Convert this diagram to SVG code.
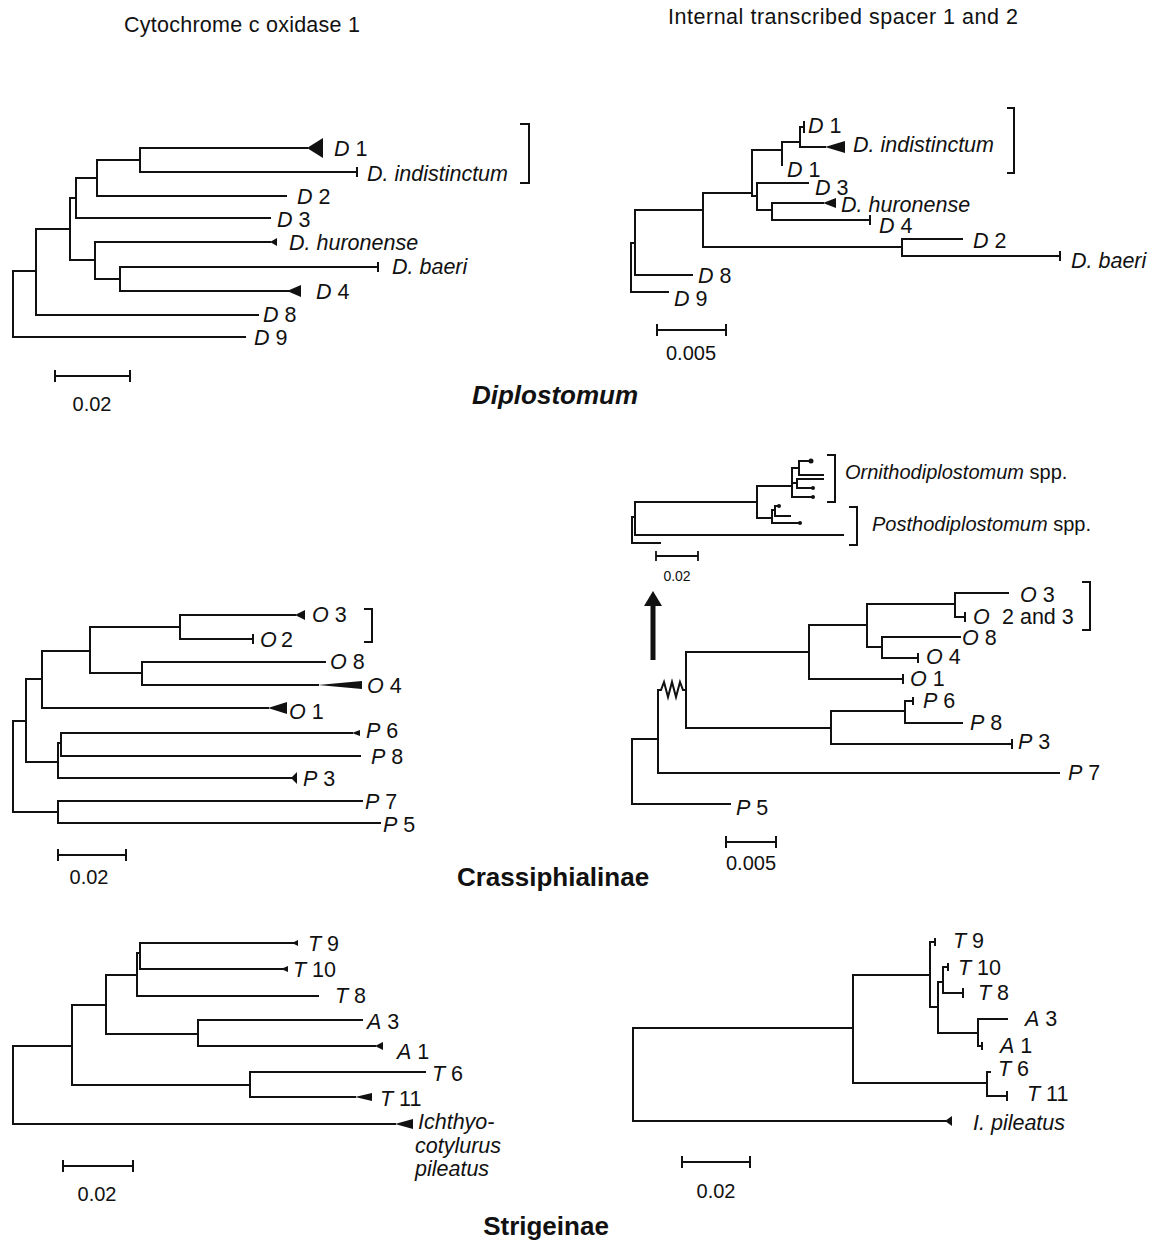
<svg xmlns="http://www.w3.org/2000/svg" width="1161" height="1240" viewBox="0 0 1161 1240">
<style>
text{font-family:"Liberation Sans",Arial,Helvetica,sans-serif;fill:#111}
.lb{font-size:21.5px}
.it{font-style:italic}
.sc{font-size:20px}
.ttl{font-size:21.5px}
.grp{font-size:26px;font-weight:bold}
.br{fill:none;stroke:#111;stroke-width:2;stroke-linecap:square;stroke-linejoin:miter}
.tri{fill:#111;stroke:none}
.dot{fill:#111}
</style>
<rect width="1161" height="1240" fill="#fff"/>

<g id="titles">
<text class="ttl" x="124" y="32" textLength="236" lengthAdjust="spacing">Cytochrome c oxidase 1</text>
<text class="ttl" x="668" y="24" textLength="350" lengthAdjust="spacing">Internal transcribed spacer 1 and 2</text>
<text class="grp it" x="555" y="404" text-anchor="middle">Diplostomum</text>
<text class="grp" x="553" y="886" text-anchor="middle">Crassiphialinae</text>
<text class="grp" x="546" y="1235" text-anchor="middle">Strigeinae</text>
</g>

<!-- Top-left: COI Diplostomum -->
<g id="coi-diplostomum">
<g id="coi-diplo-connectors">
<path class="br" d="M13,271 V337 H245 M13,271 H36 M36,229 V315 H258 M36,229 H70 M70,198 V260 M70,198 H76 M76,178 V218 H270 M76,178 H97 M97,160 V196 H286 M97,160 H140 M140,148 V172 H357 M357,168 V176 M140,148 H307 M70,260 H95 M95,242 V279 M95,242 H270 M95,279 H120 M120,267 V291 M120,267 H378 M378,263 V271 M120,291 H288"/>
<polygon class="tri" points="307,148 323,138 323,158"/>
<polygon class="tri" points="270,242 277,238 277,246"/>
<polygon class="tri" points="287,291 301,285 301,297"/>
<path class="br" d="M521,124 H529 V183 H521"/>
<path class="br" d="M55,376 H130 M55,371 V381 M130,371 V381"/>
</g>
<g id="coi-diplo-labels" class="lb">
<text x="334" y="156"><tspan class="it">D</tspan> 1</text>
<text x="367" y="181" class="it">D. indistinctum</text>
<text x="297" y="204"><tspan class="it">D</tspan> 2</text>
<text x="277" y="227"><tspan class="it">D</tspan> 3</text>
<text x="289" y="250" class="it">D. huronense</text>
<text x="392" y="274" class="it">D. baeri</text>
<text x="316" y="299"><tspan class="it">D</tspan> 4</text>
<text x="263" y="322"><tspan class="it">D</tspan> 8</text>
<text x="254" y="345"><tspan class="it">D</tspan> 9</text>
</g>
<text class="sc" x="92" y="411" text-anchor="middle">0.02</text>
</g>

<!-- Top-right: ITS Diplostomum -->
<g id="its-diplostomum">
<g id="its-diplo-connectors">
<path class="br" d="M631,243 V292 H668 M631,243 H635 M635,210 V275 H692 M635,210 H703 M703,193 V247 M703,247 H902 M902,239 V256 M902,239 H962 M902,256 H1060 M1060,252 V260 M703,193 H752 M752,150 V196 M752,196 H757 M757,183 V210 M757,183 H808 M757,210 H772 M772,203 V220 M772,203 H823 M772,220 H870 M870,216 V224 M752,150 H782 M782,142 V165 M782,142 H800 M800,127 V147 M800,127 H804 M804,122 V132 M800,147 H825"/>
<polygon class="tri" points="823,203 836,198 836,208"/>
<polygon class="tri" points="825,147 845,141 845,153"/>
<path class="br" d="M1008,108 H1014 V173 H1008"/>
<path class="br" d="M657,330 H726 M657,325 V335 M726,325 V335"/>
</g>
<g id="its-diplo-labels" class="lb">
<text x="808" y="133"><tspan class="it">D</tspan> 1</text>
<text x="853" y="152" class="it">D. indistinctum</text>
<text x="787" y="177"><tspan class="it">D</tspan> 1</text>
<text x="815" y="195"><tspan class="it">D</tspan> 3</text>
<text x="841" y="212" class="it">D. huronense</text>
<text x="879" y="233"><tspan class="it">D</tspan> 4</text>
<text x="973" y="248"><tspan class="it">D</tspan> 2</text>
<text x="1071" y="268" class="it">D. baeri</text>
<text x="698" y="283"><tspan class="it">D</tspan> 8</text>
<text x="674" y="306"><tspan class="it">D</tspan> 9</text>
</g>
<text class="sc" x="691" y="360" text-anchor="middle">0.005</text>
</g>

<!-- Middle-left: COI Crassiphialinae -->
<g id="coi-crassiphialinae">
<g id="coi-crass-connectors">
<path class="br" d="M13,721 V812 M13,721 H26 M26,679 V762 M26,679 H42 M42,651 V708 M42,651 H90 M90,627 V673 M90,627 H180 M180,615 V639 M180,615 H295 M180,639 H253 M253,635 V643 M90,673 H142 M142,662 V685 M142,662 H325 M142,685 H318 M42,708 H268 M26,762 H58 M58,743 V778 M58,743 H61 M61,733 V756 M61,733 H352 M61,756 H360 M58,778 H292 M13,812 H58 M58,801 V823 M58,801 H362 M58,823 H380"/>
<polygon class="tri" points="295,615 305,610 305,620"/>
<polygon class="tri" points="318,685 362,681 362,689"/>
<polygon class="tri" points="268,708 287,702 287,714"/>
<polygon class="tri" points="352,733 360,730 360,736"/>
<polygon class="tri" points="291,778 297,772 297,784"/>
<path class="br" d="M365,609 H372 V642 H365"/>
<path class="br" d="M58,855 H126 M58,850 V860 M126,850 V860"/>
</g>
<g id="coi-crass-labels" class="lb">
<text x="312" y="622"><tspan class="it">O</tspan> 3</text>
<text x="260" y="647"><tspan class="it">O</tspan><tspan x="281">2</tspan></text>
<text x="330" y="669"><tspan class="it">O</tspan> 8</text>
<text x="367" y="693"><tspan class="it">O</tspan> 4</text>
<text x="289" y="719"><tspan class="it">O</tspan> 1</text>
<text x="366" y="738"><tspan class="it">P</tspan> 6</text>
<text x="371" y="764"><tspan class="it">P</tspan> 8</text>
<text x="303" y="786"><tspan class="it">P</tspan> 3</text>
<text x="365" y="809"><tspan class="it">P</tspan> 7</text>
<text x="383" y="832"><tspan class="it">P</tspan> 5</text>
</g>
<text class="sc" x="89" y="884" text-anchor="middle">0.02</text>
</g>

<!-- Middle-right inset -->
<g id="its-crass-inset">
<g id="its-inset-connectors">
<path class="br" d="M632,517 V543 H660 M632,517 H635 M635,502 V535 M635,502 H757 M635,535 H843 M757,486 V518 M757,486 H792 M792,468 V497 M792,468 H799 M799,461 V475 M799,461 H810 M799,475 H823 M792,483 H797 M797,479 V488 M797,479 H823 M797,488 H813 M792,497 H813 M757,518 H772 M772,510 V523 M772,510 H775 M775,506 V516 M775,506 H779 M775,516 H790 M772,523 H800"/>
<circle class="dot" cx="811" cy="461" r="2.5"/>
<circle class="dot" cx="813" cy="488" r="2"/>
<circle class="dot" cx="813" cy="497" r="2"/>
<circle class="dot" cx="779" cy="506" r="2"/>
<circle class="dot" cx="800" cy="523" r="2"/>
<path class="br" d="M828,455 H835 V502 H828 M850,507 H857 V545 H850"/>
<path class="br" d="M656,556 H698 M656,552 V560 M698,552 V560" style="stroke-width:1.8"/>
</g>
<g id="its-inset-labels" style="font-size:20px">
<text x="845" y="479"><tspan class="it">Ornithodiplostomum</tspan> spp.</text>
<text x="872" y="531"><tspan class="it">Posthodiplostomum</tspan> spp.</text>
</g>
<text x="677" y="581" text-anchor="middle" style="font-size:14px">0.02</text>
</g>

<g id="arrow">
<path d="M653,660 V604" fill="none" stroke="#111" stroke-width="5"/>
<polygon class="tri" points="653,591 644,606 662,606"/>
</g>

<!-- Middle-right: ITS Crassiphialinae -->
<g id="its-crassiphialinae">
<g id="its-crass-connectors">
<path class="br" d="M632,739 V804 H730 M632,739 H658 M658,690 V773 H1059 M658,690 L661,690 L664,682 L668,697 L672,682 L676,697 L680,682 L683,690 L686,690 M686,652 V728 M686,652 H809 M809,625 V679 M809,625 H867 M867,604 V647 M867,604 H955 M955,593 V617 M955,593 H1008 M955,617 H965 M965,613 V621 M867,647 H882 M882,637 V658 M882,637 H960 M882,658 H918 M918,654 V662 M809,679 H903 M903,675 V683 M686,728 H831 M831,711 V744 M831,744 H1012 M1012,740 V748 M831,711 H905 M905,701 V723 M905,701 H913 M913,698 V704 M905,723 H962"/>
<path class="br" d="M1083,582 H1090 V630 H1083"/>
<path class="br" d="M726,842 H776 M726,837 V847 M776,837 V847"/>
</g>
<g id="its-crass-labels" class="lb">
<text x="1020" y="602"><tspan class="it">O</tspan> 3</text>
<text x="973" y="624"><tspan class="it">O</tspan><tspan x="1002">2 and 3</tspan></text>
<text x="962" y="645"><tspan class="it">O</tspan> 8</text>
<text x="926" y="664"><tspan class="it">O</tspan> 4</text>
<text x="910" y="686"><tspan class="it">O</tspan> 1</text>
<text x="923" y="708"><tspan class="it">P</tspan> 6</text>
<text x="970" y="730"><tspan class="it">P</tspan> 8</text>
<text x="1018" y="749"><tspan class="it">P</tspan> 3</text>
<text x="1068" y="780"><tspan class="it">P</tspan> 7</text>
<text x="736" y="815"><tspan class="it">P</tspan> 5</text>
</g>
<text class="sc" x="751" y="870" text-anchor="middle">0.005</text>
</g>

<!-- Bottom-left: COI Strigeinae -->
<g id="coi-strigeinae">
<g id="coi-strig-connectors">
<path class="br" d="M13,1046 V1124 H395 M13,1046 H72 M72,1005 V1085 M72,1085 H250 M250,1072 V1097 M250,1072 H425 M250,1097 H355 M72,1005 H106 M106,975 V1034 M106,1034 H198 M198,1020 V1046 M198,1020 H362 M198,1046 H375 M106,975 H137 M137,953 V996 M137,953 H140 M140,943 V969 M140,943 H293 M140,969 H282 M137,996 H318"/>
<polygon class="tri" points="395,1124 413,1119 413,1129"/>
<polygon class="tri" points="355,1097 372,1093 372,1101"/>
<polygon class="tri" points="375,1046 383,1042 383,1050"/>
<polygon class="tri" points="292,943 298,940 298,946"/>
<polygon class="tri" points="281,969 288,966 288,972"/>
<path class="br" d="M63,1166 H133 M63,1161 V1171 M133,1161 V1171"/>
</g>
<g id="coi-strig-labels" class="lb">
<text x="308" y="951"><tspan class="it">T</tspan> 9</text>
<text x="293" y="977"><tspan class="it">T</tspan> 10</text>
<text x="335" y="1003"><tspan class="it">T</tspan> 8</text>
<text x="367" y="1029"><tspan class="it">A</tspan> 3</text>
<text x="397" y="1059"><tspan class="it">A</tspan> 1</text>
<text x="432" y="1081"><tspan class="it">T</tspan> 6</text>
<text x="380" y="1106"><tspan class="it">T</tspan> 11</text>
<text x="418" y="1129" class="it">Ichthyo-</text>
<text x="415" y="1153" class="it">cotylurus</text>
<text x="415" y="1176" class="it">pileatus</text>
</g>
<text class="sc" x="97" y="1201" text-anchor="middle">0.02</text>
</g>

<!-- Bottom-right: ITS Strigeinae -->
<g id="its-strigeinae">
<g id="its-strig-connectors">
<path class="br" d="M633,1028 V1121 H945 M633,1028 H853 M853,975 V1083 M853,1083 H987 M987,1072 V1096 M987,1072 H990 M987,1096 H1007 M1007,1092 V1100 M853,975 H930 M930,942 V1007 M930,942 H935 M935,939 V945 M930,1007 H938 M938,982 V1033 M938,982 H943 M943,967 V993 M943,967 H948 M948,964 V970 M943,993 H963 M963,989 V997 M938,1033 H978 M978,1019 V1046 M978,1019 H1007 M978,1046 H982 M982,1043 V1049"/>
<polygon class="tri" points="945,1121 952,1116 952,1126"/>
<path class="br" d="M682,1162 H750 M682,1157 V1167 M750,1157 V1167"/>
</g>
<g id="its-strig-labels" class="lb">
<text x="953" y="948"><tspan class="it">T</tspan> 9</text>
<text x="958" y="975"><tspan class="it">T</tspan> 10</text>
<text x="978" y="1000"><tspan class="it">T</tspan> 8</text>
<text x="1025" y="1026"><tspan class="it">A</tspan> 3</text>
<text x="1000" y="1053"><tspan class="it">A</tspan> 1</text>
<text x="998" y="1076"><tspan class="it">T</tspan> 6</text>
<text x="1027" y="1101"><tspan class="it">T</tspan> 11</text>
<text x="973" y="1130" class="it">I. pileatus</text>
</g>
<text class="sc" x="716" y="1198" text-anchor="middle">0.02</text>
</g>
</svg>
